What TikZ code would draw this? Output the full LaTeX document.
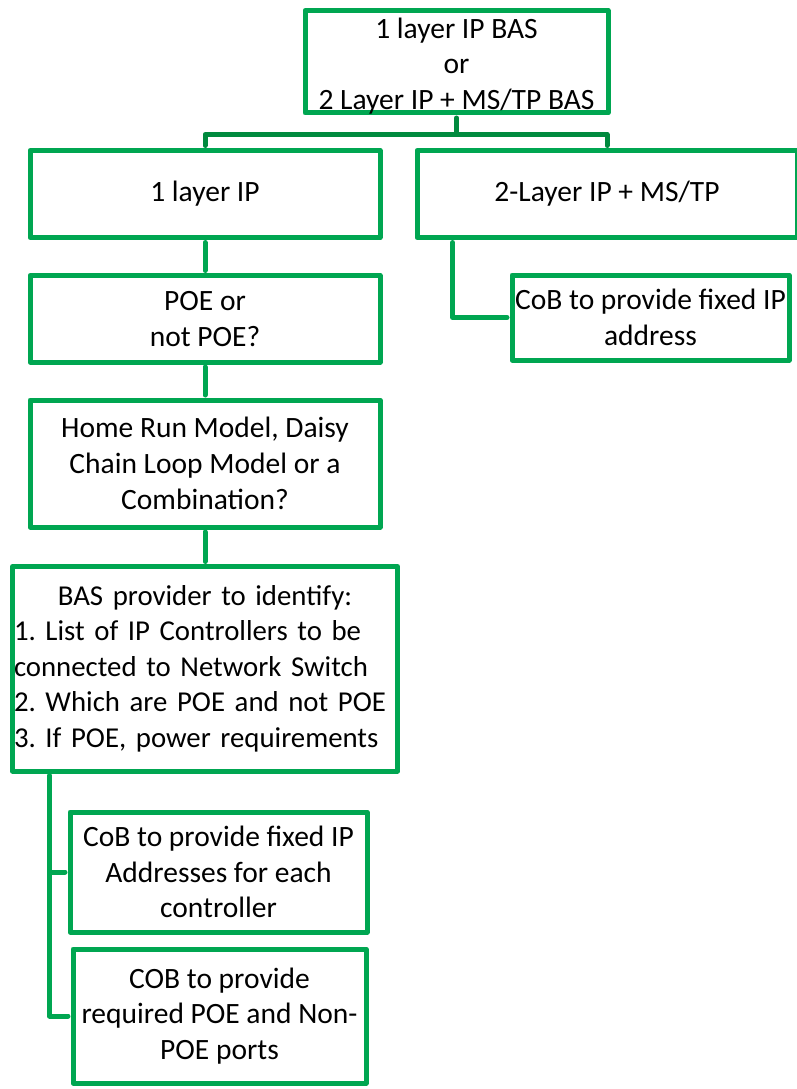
\documentclass[tikz,border=0pt]{standalone}
\usepackage{fontspec}
\setmainfont{Carlito}
\usepackage{tikz}
\usetikzlibrary{calc,positioning}
\definecolor{boxgreen}{RGB}{0,166,81}
\definecolor{bargreen}{RGB}{0,138,62}
\frenchspacing

\begin{document}
\begin{tikzpicture}[x=1pt,y=-1pt,line cap=round,line join=round,
  box/.style={draw=boxgreen,line width=5pt,inner sep=0pt,align=center,
    font=\fontsize{29.5}{35.8}\selectfont},
  link/.style={draw=boxgreen,line width=5pt},
  barlink/.style={draw=bargreen,line width=5pt}]
\useasboundingbox (0,0) rectangle (796,1089);
%\draw[step=50,gray,very thin] (0,0) grid (796,1089);
\node[box,minimum width=303pt,minimum height=102.5pt,inner ysep=-2pt] (choice) at (456.5,61.75)
  {\rule{0pt}{29pt}1 layer IP BAS\\or\\2 Layer IP + MS/TP BAS};
\node[box,minimum width=350pt,minimum height=87pt] (onelayer) at (205,194) {1 layer IP};
\node[box,minimum width=380pt,minimum height=87pt] (twolayer) at (607,194) {2-Layer IP + MS/TP};
\node[box,minimum width=350pt,minimum height=86.5pt] (poe) at (205,318.75) {POE or\\not POE?};
\node[box,minimum width=277pt,minimum height=85pt] (fixedip) at (650.5,317.5)
  {CoB to provide fixed IP\\address};
\node[box,minimum width=350pt,minimum height=127pt] (model) at (205,463.5)
  {Home Run Model, Daisy\\Chain Loop Model or a\\Combination?};
\node[box,minimum width=385pt,minimum height=204.5pt,text width=382pt,inner xsep=1.5pt,align=left,
  font=\fontsize{28.8}{35.5}\selectfont] (provider) at (205,668.75)
  {{\centering BAS provider to identify:\par}\raggedright 1. List of IP Controllers to be\\connected to Network Switch\\2. Which are POE and not POE\\3. If POE, power requirements};
\node[box,minimum width=297pt,minimum height=120pt] (addresses) at (218.5,872)
  {CoB to provide fixed IP\\Addresses for each\\controller};
\node[box,minimum width=293pt,minimum height=134pt] (ports) at (219.5,1016)
  {COB to provide\\required POE and Non-\\POE ports};

\coordinate (split) at (456.5,134.5);
\draw[barlink,shorten <=2.5pt] (choice.south) -- (split);
\draw[barlink,shorten <=2.5pt,shorten >=2.5pt] (onelayer.north) |- (split) -| (twolayer.north);
\draw[link,shorten <=2.5pt,shorten >=2.5pt] (onelayer.south) -- (poe.north);
\draw[link,shorten <=2.5pt,shorten >=2.5pt] (poe.south) -- (model.north);
\draw[link,shorten <=2.5pt,shorten >=2.5pt] (model.south) -- (provider.north);
\draw[link,shorten <=2.5pt,shorten >=2.5pt] ($(twolayer.south west)+(38,0)$) |- (fixedip.west);
\draw[link,shorten <=2.5pt,shorten >=2.5pt] ($(provider.south west)+(39.5,0)$) |- (addresses.west);
\draw[link,shorten <=2.5pt,shorten >=2.5pt] ($(provider.south west)+(39.5,0)$) |- (ports.west);
\end{tikzpicture}
\end{document}
